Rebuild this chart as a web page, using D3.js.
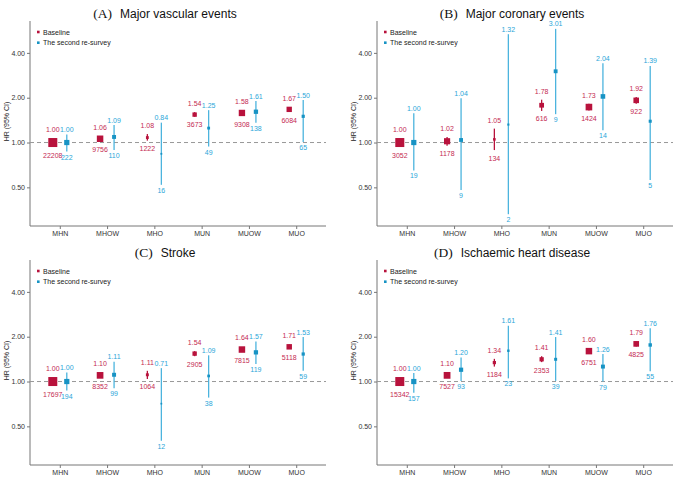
<!DOCTYPE html>
<html>
<head>
<meta charset="utf-8">
<script src="https://cdn.jsdelivr.net/npm/d3@7"></script>
<style>
  body { margin: 0; background: #fff; }
  svg { display: block; font-family: "Liberation Sans", Arial, sans-serif; }
</style>
</head>
<body>
<svg id="chart" width="676" height="477"></svg>
<script>

var categories = ["MHN", "MHOW", "MHO", "MUN", "MUOW", "MUO"];
var panelLetters = ["(A)", "(B)", "(C)", "(D)"];
var panelTitles = ["Major vascular events", "Major coronary events", "Stroke", "Ischaemic heart disease"];
var yTicks = [0.5, 1, 2, 4];

// one row per panel (A, B, C, D)
var baseHR = [
  [1.00, 1.06, 1.08, 1.54, 1.58, 1.67],
  [1.00, 1.02, 1.05, 1.78, 1.73, 1.92],
  [1.00, 1.10, 1.11, 1.54, 1.64, 1.71],
  [1.00, 1.10, 1.34, 1.41, 1.60, 1.79]
];
var baseLo = [
  [1.00, 1.03, 1.03, 1.49, 1.55, 1.62],
  [1.00, 0.95, 0.89, 1.63, 1.64, 1.82],
  [1.00, 1.07, 1.04, 1.48, 1.60, 1.66],
  [1.00, 1.06, 1.26, 1.35, 1.56, 1.72]
];
var baseHi = [
  [1.00, 1.09, 1.14, 1.60, 1.62, 1.72],
  [1.00, 1.09, 1.24, 1.94, 1.82, 2.02],
  [1.00, 1.13, 1.18, 1.60, 1.68, 1.77],
  [1.00, 1.14, 1.42, 1.48, 1.65, 1.86]
];
var baseN = [
  [22208, 9756, 1222, 3673, 9308, 6084],
  [3052, 1178, 134, 616, 1424, 922],
  [17697, 8352, 1064, 2905, 7815, 5118],
  [15342, 7527, 1184, 2353, 6751, 4825]
];

var surveyHR = [
  [1.00, 1.09, 0.84, 1.25, 1.61, 1.50],
  [1.00, 1.04, 1.32, 3.01, 2.04, 1.39],
  [1.00, 1.11, 0.71, 1.09, 1.57, 1.53],
  [1.00, 1.20, 1.61, 1.41, 1.26, 1.76]
];
var surveyLo = [
  [0.87, 0.89, 0.52, 0.94, 1.36, 1.01],
  [0.65, 0.48, 0.33, 1.55, 1.21, 0.56],
  [0.87, 0.90, 0.40, 0.78, 1.31, 1.18],
  [0.84, 1.01, 1.05, 1.01, 1.00, 1.17]
];
var surveyHi = [
  [1.13, 1.31, 1.36, 1.65, 1.90, 1.93],
  [1.57, 1.98, 5.34, 5.80, 3.41, 3.27],
  [1.15, 1.36, 1.23, 1.50, 1.86, 1.99],
  [1.14, 1.45, 2.37, 1.99, 1.53, 2.28]
];
var surveyN = [
  [222, 110, 16, 49, 138, 65],
  [19, 9, 2, 9, 14, 5],
  [194, 99, 12, 38, 119, 59],
  [157, 93, 23, 39, 79, 55]
];


var forest = {};

forest.red = "#b8123c";
forest.redText = "#c42a52";
forest.blue = "#1793c4";
forest.blueLine = "#4cb4de";
forest.blueText = "#2ba6d9";

forest.origins = [[0, 0], [347, 0], [0, 239], [347, 239]];

forest.rows = function(p, hr, lo, hi, n) {
  return categories.map(function(c, i) {
    return { cat: c, hr: hr[p][i], lo: lo[p][i], hi: hi[p][i], n: n[p][i] };
  });
};

forest.drawPanel = function(svg, p) {

  var left = 30, right = 326, top = 21, bottom = 226;

  var g = svg.append("g")
      .attr("transform", "translate(" + forest.origins[p][0] + "," + forest.origins[p][1] + ")");

  var x = d3.scalePoint().domain(categories).range([left, right]).padding(0.63);
  var y = d3.scaleLog().domain([0.275, 6.55]).range([bottom, top]);

  var base = forest.rows(p, baseHR, baseLo, baseHi, baseN);
  var survey = forest.rows(p, surveyHR, surveyLo, surveyHi, surveyN);

  var sizeBase = d3.scalePow().exponent(0.4).domain([0, d3.max(base, function(d) { return d.n; })]).range([0, 9]);
  var sizeSurvey = d3.scalePow().exponent(0.4).domain([0, d3.max(survey, function(d) { return d.n; })]).range([0, 5.2]);

  // title
  var title = g.append("text")
      .attr("x", (left + right) / 2 - 13)
      .attr("y", 18)
      .attr("text-anchor", "middle")
      .attr("fill", "#111");
  title.append("tspan")
      .style("font-family", "'Liberation Serif', 'Times New Roman', serif")
      .style("font-size", "13.5px")
      .text(panelLetters[p]);
  title.append("tspan")
      .attr("dx", 8)
      .style("font-size", "12px")
      .text(panelTitles[p]);

  // axes
  var yAxis = d3.axisLeft(y).tickValues(yTicks).tickSize(3).tickPadding(2)
      .tickFormat(d3.format(".2f"));
  var ya = g.append("g").attr("transform", "translate(" + left + ",0)").call(yAxis);
  ya.select(".domain").attr("d", "M0," + top + "V" + bottom);

  var xAxis = d3.axisBottom(x).tickSize(3).tickPadding(2);
  var xa = g.append("g").attr("transform", "translate(0," + bottom + ")").call(xAxis);
  xa.select(".domain").attr("d", "M" + left + ",0H" + right);

  g.selectAll(".domain").attr("stroke", "#777");
  g.selectAll(".tick line").attr("stroke", "#777");
  g.selectAll(".tick text").attr("fill", "#333").style("font-size", "7px")
      .style("font-family", "'Liberation Sans', Arial, sans-serif");

  g.append("text")
      .attr("transform", "translate(9," + ((top + bottom) / 2 - 2) + ") rotate(-90)")
      .attr("text-anchor", "middle")
      .style("font-size", "7px")
      .attr("fill", "#222")
      .text("HR (95% CI)");

  // reference line
  g.append("line")
      .attr("x1", left).attr("x2", right)
      .attr("y1", y(1)).attr("y2", y(1))
      .attr("stroke", "#999")
      .attr("stroke-width", 1)
      .attr("stroke-dasharray", "4,3");

  // legend
  var legend = g.append("g").attr("class", "legend");
  [["Baseline", forest.red], ["The second re-survey", forest.blue]].forEach(function(l, i) {
    legend.append("rect")
        .attr("x", 37).attr("y", 30.7 + i * 10.7)
        .attr("width", 2.6).attr("height", 2.6)
        .attr("fill", l[1]);
    legend.append("text")
        .attr("x", 43).attr("y", 34.5 + i * 10.7)
        .style("font-size", "7px")
        .attr("fill", "#222")
        .text(l[0]);
  });

  // baseline series
  var off = 7;
  var bg = g.append("g").selectAll("g").data(base).enter().append("g");
  bg.append("line")
      .attr("x1", function(d) { return x(d.cat) - off; })
      .attr("x2", function(d) { return x(d.cat) - off; })
      .attr("y1", function(d) { return y(d.lo); })
      .attr("y2", function(d) { return y(d.hi); })
      .attr("stroke", forest.red)
      .attr("stroke-width", 1.3);
  bg.append("rect")
      .attr("x", function(d) { return x(d.cat) - off - sizeBase(d.n) / 2; })
      .attr("y", function(d) { return y(d.hr) - sizeBase(d.n) / 2; })
      .attr("width", function(d) { return sizeBase(d.n); })
      .attr("height", function(d) { return sizeBase(d.n); })
      .attr("fill", forest.red);
  bg.append("text")
      .attr("x", function(d) { return x(d.cat) - off; })
      .attr("y", function(d) { return Math.min(y(d.hi), y(d.hr) - sizeBase(d.n) / 2) - 6; })
      .attr("text-anchor", "middle")
      .style("font-size", "7px")
      .attr("fill", forest.redText)
      .text(function(d) { return d3.format(".2f")(d.hr); });
  bg.append("text")
      .attr("x", function(d) { return x(d.cat) - off; })
      .attr("y", function(d) { return Math.max(y(d.lo), y(d.hr) + sizeBase(d.n) / 2) + 10.5; })
      .attr("text-anchor", "middle")
      .style("font-size", "7px")
      .attr("fill", forest.redText)
      .text(function(d) { return d.n; });

  // re-survey series
  var sg = g.append("g").selectAll("g").data(survey).enter().append("g");
  sg.append("line")
      .attr("x1", function(d) { return x(d.cat) + off; })
      .attr("x2", function(d) { return x(d.cat) + off; })
      .attr("y1", function(d) { return y(d.lo); })
      .attr("y2", function(d) { return y(d.hi); })
      .attr("stroke", forest.blueLine)
      .attr("stroke-width", 1.3);
  sg.append("rect")
      .attr("x", function(d) { return x(d.cat) + off - sizeSurvey(d.n) / 2; })
      .attr("y", function(d) { return y(d.hr) - sizeSurvey(d.n) / 2; })
      .attr("width", function(d) { return sizeSurvey(d.n); })
      .attr("height", function(d) { return sizeSurvey(d.n); })
      .attr("fill", forest.blue);
  sg.append("text")
      .attr("x", function(d) { return x(d.cat) + off; })
      .attr("y", function(d) { return y(d.hi) - 2.5; })
      .attr("text-anchor", "middle")
      .style("font-size", "7px")
      .attr("fill", forest.blueText)
      .text(function(d) { return d3.format(".2f")(d.hr); });
  sg.append("text")
      .attr("x", function(d) { return x(d.cat) + off; })
      .attr("y", function(d) { return y(d.lo) + 8; })
      .attr("text-anchor", "middle")
      .style("font-size", "7px")
      .attr("fill", forest.blueText)
      .text(function(d) { return d.n; });
};

var svg = d3.select("#chart");
for (var p = 0; p < 4; p++) {
  forest.drawPanel(svg, p);
}

</script>
</body>
</html>
